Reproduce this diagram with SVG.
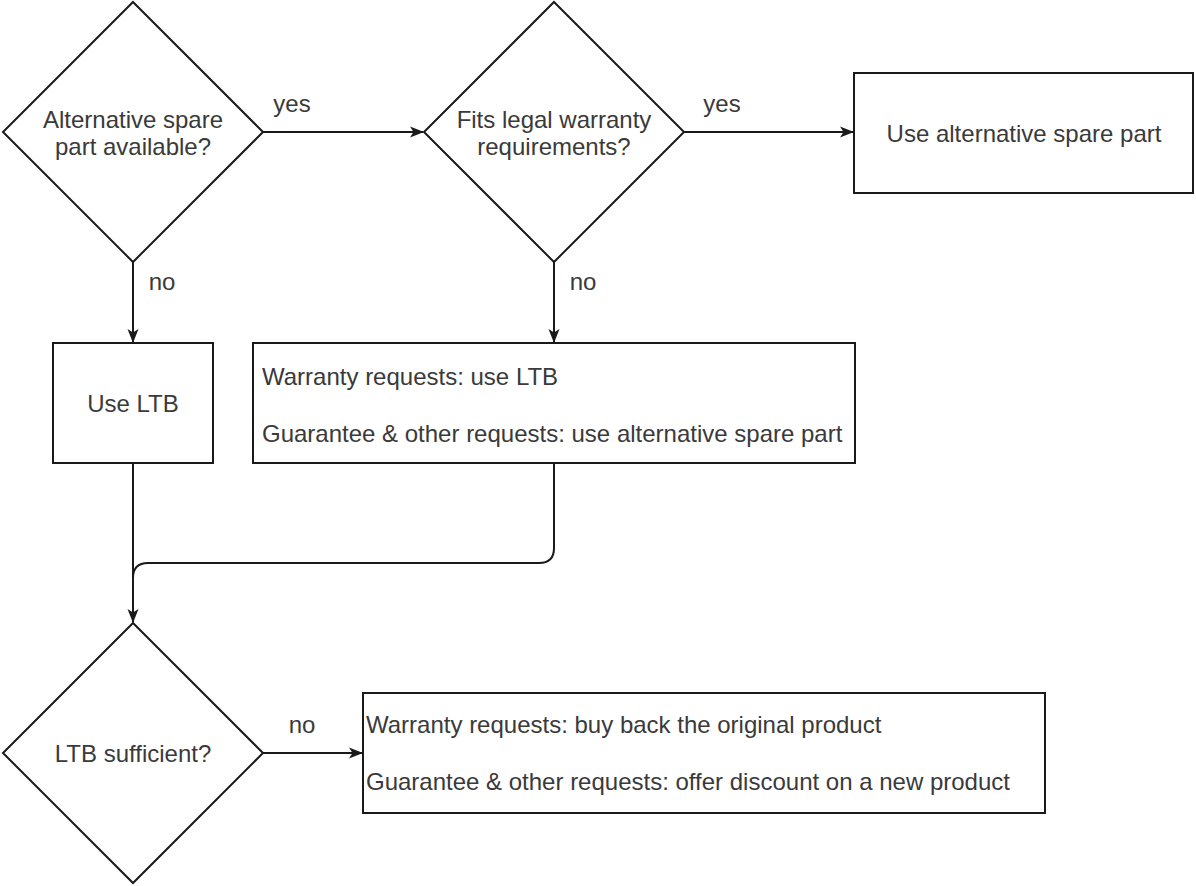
<svg xmlns="http://www.w3.org/2000/svg" width="1196" height="886" viewBox="0 0 1196 886">
<style>
.shape{fill:#fff;stroke:#1a1a1a;stroke-width:2}
.edge{fill:none;stroke:#1a1a1a;stroke-width:2}
text{font-family:"Liberation Sans",Arial,sans-serif;font-size:24px;fill:#3a3a3a}
.c{text-anchor:middle}
</style>
<defs>
<marker id="arr" viewBox="0 0 14 14" refX="13" refY="7" markerWidth="14" markerHeight="14" markerUnits="userSpaceOnUse" orient="auto">
<path d="M0,1.5 L14,7 L0,12.5 L3.5,7 Z" fill="#1a1a1a"/>
</marker>
</defs>
<rect width="1196" height="886" fill="#fff"/>
<g id="connectors">
<path class="edge" d="M263,132 L423,132" marker-end="url(#arr)"/>
<path class="edge" d="M683,132 L853,132" marker-end="url(#arr)"/>
<path class="edge" d="M133,262 L133,342" marker-end="url(#arr)"/>
<path class="edge" d="M554,262 L554,342" marker-end="url(#arr)"/>
<path class="edge" d="M133,463 L133,622" marker-end="url(#arr)"/>
<path class="edge" d="M554,463 L554,548 Q554,563 539,563 L148,563 Q133,563 133,578"/>
<path class="edge" d="M263,753 L362,753" marker-end="url(#arr)"/>
<text x="292" y="112" class="c">yes</text>
<text x="722" y="112" class="c">yes</text>
<text x="162" y="290" class="c">no</text>
<text x="583" y="290" class="c">no</text>
<text x="302" y="733" class="c">no</text>
</g>
<g id="n1">
<polygon class="shape" points="133,2 263,132 133,262 3,132"/>
<text x="133" y="128" class="c">Alternative spare</text>
<text x="133" y="155" class="c">part available?</text>
</g>
<g id="n2">
<polygon class="shape" points="554,2 684,132 554,262 424,132"/>
<text x="554" y="128" class="c">Fits legal warranty</text>
<text x="554" y="155" class="c">requirements?</text>
</g>
<g id="n3">
<rect class="shape" x="854" y="73" width="339" height="120"/>
<text x="1024" y="142" class="c">Use alternative spare part</text>
</g>
<g id="n4">
<rect class="shape" x="53" y="343" width="160" height="120"/>
<text x="133" y="412" class="c">Use LTB</text>
</g>
<g id="n5">
<rect class="shape" x="253" y="343" width="602" height="120"/>
<text x="262" y="385">Warranty requests: use LTB</text>
<text x="262" y="442">Guarantee &amp; other requests: use alternative spare part</text>
</g>
<g id="n6">
<polygon class="shape" points="133,623 263,753 133,883 3,753"/>
<text x="133" y="762" class="c">LTB sufficient?</text>
</g>
<g id="n7">
<rect class="shape" x="363" y="693" width="682" height="120"/>
<text x="366" y="733">Warranty requests: buy back the original product</text>
<text x="366" y="790">Guarantee &amp; other requests: offer discount on a new product</text>
</g>
</svg>
